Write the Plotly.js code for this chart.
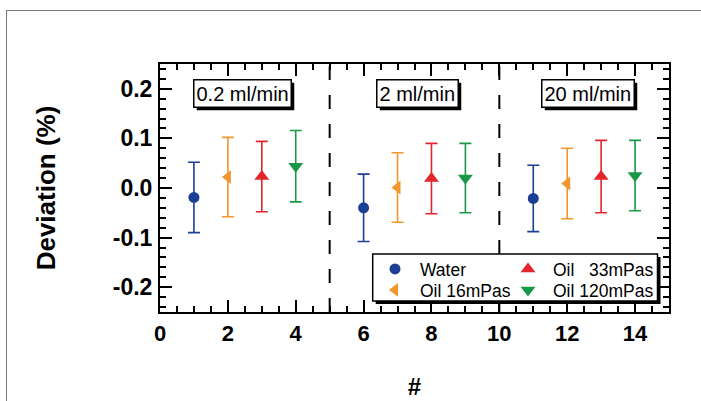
<!DOCTYPE html>
<html><head><meta charset="utf-8">
<script src="https://cdn.plot.ly/plotly-3.0.1.min.js"></script>
<style>
html,body{margin:0;padding:0;background:#fff;overflow:hidden;}
#wrap{position:relative;width:701px;height:401px;overflow:hidden;}
#chart{width:701px;height:401px;}
#frame{position:absolute;left:6px;top:10px;width:760px;height:460px;border-top:1.5px solid #7a7a7a;border-left:1.5px solid #7a7a7a;pointer-events:none;}
</style></head><body>
<div id="wrap"><div id="chart"></div><div id="frame"></div></div>
<script>
// ---- data ----
const seriesNames = ['Water', 'Oil 16mPas', 'Oil \u200733mPas', 'Oil 120mPas'];
const waterX = [1, 6, 11];
const waterY = [-0.019, -0.040, -0.021];
const waterErr = [0.071, 0.068, 0.067];
const oil16X = [2, 7, 12];
const oil16Y = [0.022, 0.001, 0.009];
const oil16Err = [0.080, 0.070, 0.071];
const oil33X = [3, 8, 13];
const oil33Y = [0.023, 0.019, 0.023];
const oil33Err = [0.071, 0.071, 0.073];
const oil120X = [4, 9, 14];
const oil120Y = [0.044, 0.020, 0.025];
const oil120Err = [0.072, 0.070, 0.071];
const flowLabels = ['0.2 ml/min', '2 ml/min', '20 ml/min'];
const flowLabelX = [2.43, 7.6, 12.6];
const flowLabelY = [0.19, 0.19, 0.19];
const separatorX = [5, 10];
const yTickVals = [-0.2, -0.1, 0, 0.1, 0.2];
const yTickText = ['-0.2', '-0.1', '0.0', '0.1', '0.2'];

// ---- styles ----
const colors = ['#1b3f94', '#f2962c', '#e3262b', '#1a9849'];
const symbols = ['circle', 'triangle-left', 'triangle-up', 'triangle-down'];
const msizes = [11, 12, 13, 13];
const legendIds = ['legend', 'legend3', 'legend2', 'legend4'];
const xs = [waterX, oil16X, oil33X, oil120X];
const ys = [waterY, oil16Y, oil33Y, oil120Y];
const es = [waterErr, oil16Err, oil33Err, oil120Err];

const data = xs.map((x, i) => ({
  type: 'scatter', mode: 'markers', name: seriesNames[i],
  x: x, y: ys[i], legend: legendIds[i],
  marker: {color: colors[i], symbol: symbols[i], size: msizes[i]},
  error_y: {type: 'data', array: es[i], visible: true, color: colors[i], thickness: 1.6, width: 6}
}));

const F = 'Liberation Sans, Arial, Helvetica, sans-serif';
const M = {l: 160, r: 32, t: 64, b: 89};
const W = 701 - M.l - M.r, H = 401 - M.t - M.b;
const px2x = p => (p - M.l) / W;
const px2y = p => 1 - (p - M.t) / H;

const shapes = separatorX.map(v => ({
  type: 'line', xref: 'x', yref: 'paper', x0: v, x1: v, y0: 0, y1: 1,
  line: {color: 'black', width: 2, dash: '14px,15px'}, layer: 'above'
}));
// legend box + shadow
shapes.push({type: 'rect', xref: 'paper', yref: 'paper', x0: px2x(375.7), x1: px2x(660.5), y0: px2y(304), y1: px2y(257),
  fillcolor: 'black', line: {width: 0}, layer: 'above'});
shapes.push({type: 'rect', xref: 'paper', yref: 'paper', x0: px2x(372.7), x1: px2x(657.5), y0: px2y(301), y1: px2y(254),
  fillcolor: 'white', line: {color: 'black', width: 1.5}, layer: 'above'});

const annotations = flowLabels.map((t, i) => ({
  text: t, x: flowLabelX[i], y: flowLabelY[i], xref: 'x', yref: 'y', showarrow: false,
  font: {family: F, size: 20, color: 'black'}, bgcolor: 'white', bordercolor: 'black', borderwidth: 1.5, borderpad: 2
}));

const legendBase = (xp, yp) => ({
  x: px2x(xp), y: px2y(yp), xanchor: 'left', yanchor: 'middle', orientation: 'v',
  bgcolor: 'rgba(0,0,0,0)', borderwidth: 0, itemwidth: 40,
  font: {family: F, size: 17.5, color: 'black'}
});

const layout = {
  width: 701, height: 401, margin: M,
  paper_bgcolor: 'rgba(0,0,0,0)', plot_bgcolor: 'white',
  font: {family: F, color: 'black'},
  showlegend: true,
  legend: legendBase(370, 269),
  legend2: legendBase(503, 269),
  legend3: legendBase(370, 290),
  legend4: legendBase(503, 290),
  xaxis: {range: [0, 15], tick0: 0, dtick: 2, ticks: 'inside', ticklen: 12, tickwidth: 2, tickcolor: 'black',
    showline: true, linewidth: 2, linecolor: 'black', mirror: 'allticks', showgrid: false, zeroline: false,
    minor: {tickmode: 'linear', tick0: 0, dtick: 0.5, ticks: 'inside', ticklen: 6, tickwidth: 2, tickcolor: 'black', showgrid: false},
    tickfont: {family: F, size: 22, weight: 'bold', color: 'black'}, ticklabelstandoff: 1,
    title: {text: '#', font: {family: F, size: 24, weight: 'bold', color: 'black'}, standoff: 33}},
  yaxis: {range: [-0.25, 0.25], tickmode: 'array', tickvals: yTickVals, ticktext: yTickText,
    ticks: 'inside', ticklen: 12, tickwidth: 2, tickcolor: 'black',
    showline: true, linewidth: 2, linecolor: 'black', mirror: 'allticks', showgrid: false, zeroline: false,
    minor: {tickmode: 'linear', tick0: 0, dtick: 0.02, ticks: 'inside', ticklen: 6, tickwidth: 2, tickcolor: 'black', showgrid: false},
    tickfont: {family: F, size: 23, weight: 'bold', color: 'black'}, ticklabelstandoff: 1,
    title: {text: 'Deviation (%)', font: {family: F, size: 26, weight: 'bold', color: 'black'}, standoff: 50}},
  shapes: shapes, annotations: annotations
};

Plotly.newPlot('chart', data, layout, {staticPlot: true, displayModeBar: false}).then(gd => {
  const root = gd.getBoundingClientRect();
  const extra = [];
  gd.querySelectorAll('.annotation rect.bg').forEach(r => {
    const b = r.getBoundingClientRect();
    const l = b.left - root.left + 3, rr = b.right - root.left + 3;
    const t = b.top - root.top + 3, bb = b.bottom - root.top + 3;
    extra.push({type: 'rect', xref: 'paper', yref: 'paper', x0: px2x(l), x1: px2x(rr), y0: px2y(bb), y1: px2y(t),
      fillcolor: 'black', line: {width: 0}, layer: 'above'});
  });
  return Plotly.relayout(gd, {shapes: shapes.concat(extra)});
});
</script>
</body></html>
